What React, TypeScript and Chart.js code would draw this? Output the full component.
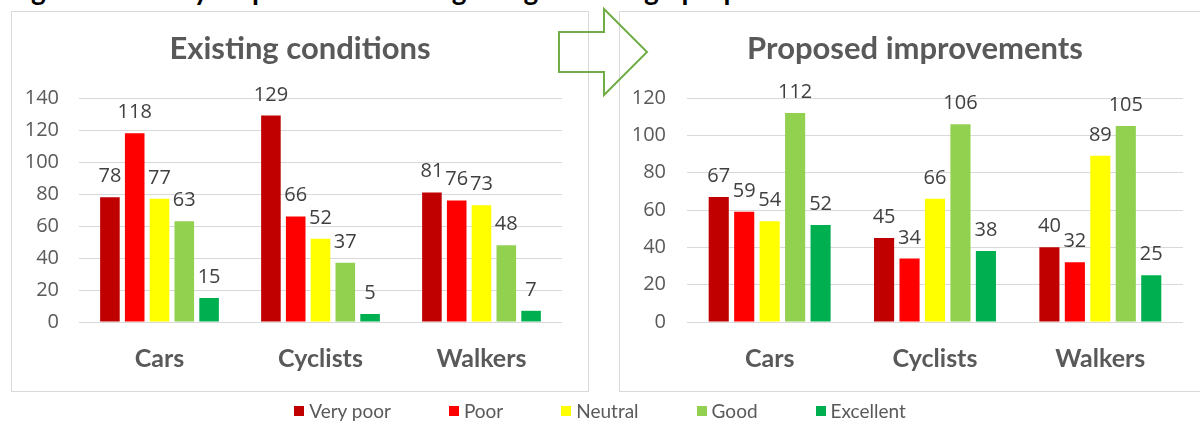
import React, { useEffect, useRef } from "react";
import { Chart, registerables } from "chart.js";

Chart.register(...registerables);

// ---- Data ----
const categories = ["Cars", "Cyclists", "Walkers"];
const seriesNames = ["Very poor", "Poor", "Neutral", "Good", "Excellent"];
const seriesColors = ["#C00000", "#FF0000", "#FFFF00", "#92D050", "#00B050"];

const existingVeryPoor = [78, 129, 81];
const existingPoor = [118, 66, 76];
const existingNeutral = [77, 52, 73];
const existingGood = [63, 37, 48];
const existingExcellent = [15, 5, 7];

const proposedVeryPoor = [67, 45, 40];
const proposedPoor = [59, 34, 32];
const proposedNeutral = [54, 66, 89];
const proposedGood = [112, 106, 105];
const proposedExcellent = [52, 38, 25];

const existingTicks = [0, 20, 40, 60, 80, 100, 120, 140];
const proposedTicks = [0, 20, 40, 60, 80, 100, 120];

const figureTitle = "Figure 5: Survey responses – existing design vs design proposals";
const existingTitle = "Existing conditions";
const proposedTitle = "Proposed improvements";

const FONT = "Lato, 'Open Sans', sans-serif";
const NUM_FONT = "'Open Sans', Lato, sans-serif";

const valueLabels = {
  id: "valueLabels",
  afterDatasetsDraw(chart: any) {
    const ctx = chart.ctx;
    ctx.save();
    ctx.font = `20px ${NUM_FONT}`;
    ctx.fillStyle = "#404040";
    ctx.textAlign = "center";
    ctx.textBaseline = "alphabetic";
    chart.data.datasets.forEach((ds: any, i: number) => {
      const meta = chart.getDatasetMeta(i);
      meta.data.forEach((bar: any, j: number) => {
        ctx.fillText(String(ds.data[j]), bar.x, bar.y - 15);
      });
    });
    ctx.restore();
  },
};

const panelTitle = {
  id: "panelTitle",
  afterDraw(chart: any, _args: any, opts: any) {
    if (!opts || !opts.text) return;
    const ctx = chart.ctx;
    ctx.save();
    ctx.font = `bold 31px ${FONT}`;
    ctx.fillStyle = "#595959";
    ctx.textAlign = "center";
    ctx.textBaseline = "alphabetic";
    ctx.fillText(opts.text, chart.width / 2 + (opts.dx || 0), opts.y);
    ctx.restore();
  },
};

function PanelChart(props: {
  title: string;
  values: number[][];
  ticks: number[];
  width: number;
  height: number;
  padRight: number;
  yLabelPad: number;
  titleDx: number;
}) {
  const ref = useRef<HTMLCanvasElement | null>(null);
  useEffect(() => {
    if (!ref.current) return;
    const ticks = props.ticks;
    const chart = new Chart(ref.current, {
      type: "bar",
      data: {
        labels: categories,
        datasets: seriesNames.map((name, i) => ({
          label: name,
          data: props.values[i],
          backgroundColor: seriesColors[i],
          borderWidth: 0,
          categoryPercentage: 0.77,
          barPercentage: 0.79,
        })),
      },
      options: {
        responsive: false,
        animation: false,
        layout: { padding: { top: 86, right: props.padRight, bottom: 0, left: 0 } },
        plugins: {
          legend: { display: false },
          tooltip: { enabled: false },
          title: { display: false },
          panelTitle: { text: props.title, y: 47, dx: props.titleDx },
        } as any,
        scales: {
          x: {
            grid: { display: false, drawTicks: false },
            border: { display: false },
            ticks: {
              font: { family: FONT, size: 25, weight: "bold" },
              color: "#595959",
              padding: 22,
            },
            afterFit: (s: any) => {
              s.height = 69;
            },
          },
          y: {
            min: ticks[0],
            max: ticks[ticks.length - 1],
            afterBuildTicks: (s: any) => {
              s.ticks = ticks.map((v) => ({ value: v }));
            },
            grid: { color: "#D9D9D9", drawTicks: false, lineWidth: 1 },
            border: { display: false },
            ticks: {
              font: { family: NUM_FONT, size: 20 },
              color: "#595959",
              padding: props.yLabelPad,
            },
            afterFit: (s: any) => {
              s.width = 67;
            },
          },
        },
      } as any,
      plugins: [valueLabels, panelTitle],
    });
    return () => chart.destroy();
  }, []);
  return (
    <canvas
      ref={ref}
      width={props.width}
      height={props.height}
      style={{ display: "block", width: props.width, height: props.height }}
    />
  );
}

export default function App() {
  const panelBorder = "1px solid #D9D9D9";
  return (
    <div
      style={{
        position: "fixed",
        left: 0,
        top: 0,
        width: 1200,
        height: 421,
        overflow: "hidden",
        background: "#ffffff",
        fontFamily: FONT,
      }}
    >
      {/* figure title, mostly above the visible area */}
      <div
        style={{
          position: "absolute",
          left: 0,
          top: 0,
          width: 1200,
          height: 6,
          overflow: "hidden",
        }}
      >
        <div
          style={{
            position: "absolute",
            left: 8,
            top: -25,
            fontSize: 28,
            lineHeight: "28px",
            fontWeight: 700,
            color: "#000",
            whiteSpace: "nowrap",
          }}
        >
          {figureTitle}
        </div>
      </div>

      <div
        style={{
          position: "absolute",
          left: 11,
          top: 11,
          width: 576,
          height: 379,
          border: panelBorder,
        }}
      >
        <PanelChart
          title={existingTitle}
          values={[existingVeryPoor, existingPoor, existingNeutral, existingGood, existingExcellent]}
          ticks={existingTicks}
          width={576}
          height={379}
          padRight={26}
          yLabelPad={20}
          titleDx={0}
        />
      </div>

      <div
        style={{
          position: "absolute",
          left: 619,
          top: 11,
          width: 590,
          height: 379,
          border: panelBorder,
        }}
      >
        <PanelChart
          title={proposedTitle}
          values={[proposedVeryPoor, proposedPoor, proposedNeutral, proposedGood, proposedExcellent]}
          ticks={proposedTicks}
          width={580}
          height={379}
          padRight={17}
          yLabelPad={21}
          titleDx={5}
        />
      </div>

      <svg
        width={1200}
        height={421}
        style={{ position: "absolute", left: 0, top: 0, pointerEvents: "none" }}
      >
        <polygon
          points="559,32 604,32 604,9 647,52 604,95 604,72 559,72"
          fill="none"
          stroke="#70AD47"
          strokeWidth={2}
          strokeLinejoin="miter"
        />
      </svg>

      <div
        style={{
          position: "absolute",
          left: 0,
          top: 401,
          width: 1200,
          height: 20,
          display: "flex",
          justifyContent: "center",
          alignItems: "center",
          columnGap: 58,
        }}
      >
        {seriesNames.map((name, i) => (
          <div key={name} style={{ display: "flex", alignItems: "center" }}>
            <span
              style={{
                display: "inline-block",
                width: 10,
                height: 10,
                background: seriesColors[i],
                marginRight: 5,
              }}
            />
            <span style={{ fontSize: 19, color: "#595959", lineHeight: "20px" }}>{name}</span>
          </div>
        ))}
      </div>
    </div>
  );
}
